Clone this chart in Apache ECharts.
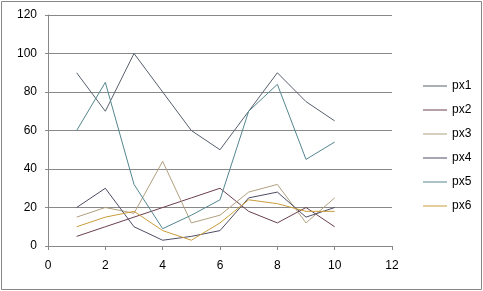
<!DOCTYPE html>
<html>
<head>
<meta charset="utf-8">
<script src="https://cdn.jsdelivr.net/npm/echarts@6/dist/echarts.min.js"></script>
<style>
html,body{margin:0;padding:0;background:#fff;}
#c{width:483px;height:291px;}
</style>
</head>
<body>
<div id="c"></div>
<script>
const xValues = [1,2,3,4,5,6,7,8,9,10];
const seriesNames = ['px1','px2','px3','px4','px5','px6'];
const px1 = [90,70,100,80,60,50,70,90,75,65];
const px2 = [5,10,15,20,25,30,18,12,20,10];
const px3 = [15,20,17,44,12,16,28,32,12,25];
const px4 = [20,30,10,3,5,8,25,28,15,20];
const px5 = [60,85,32,9,16,24,70,84,45,54];
const px6 = [10,15,18,8,3,12,24,22,18,18];
const colors = ['#565f6c','#6a3e50','#b0a07e','#4c4c66','#52868e','#c89c3a'];
const allData = [px1,px2,px3,px4,px5,px6];

const chart = echarts.init(document.getElementById('c'), null, {renderer:'canvas'});
const font = 'Liberation Sans, Arial, sans-serif';
chart.setOption({
  animation:false,
  color: colors,
  textStyle:{fontFamily:font},
  grid:{left:48, right:91, top:15, bottom:45},
  xAxis:{type:'value', min:0, max:12, interval:2,
    axisLine:{show:true, lineStyle:{color:'#888', width:1}},
    axisTick:{show:true, length:4, lineStyle:{color:'#888'}},
    axisLabel:{color:'#000', fontSize:12, margin:14, fontFamily:font},
    splitLine:{show:false}},
  yAxis:{type:'value', min:0, max:120, interval:20,
    axisLine:{show:true, lineStyle:{color:'#888', width:1}},
    axisTick:{show:true, length:3, lineStyle:{color:'#888'}},
    axisLabel:{color:'#000', fontSize:12, margin:11, fontFamily:font},
    splitLine:{show:true, lineStyle:{color:'#888', width:1}}},
  legend:{orient:'vertical', left:418, top:75, itemWidth:24, itemHeight:10, itemGap:12,
    textStyle:{color:'#000', fontSize:12, fontFamily:font},
    data: seriesNames.map(n=>({name:n, icon:'path://M0,5L24,5L24,6L0,6Z'}))},
  graphic:[{type:'rect', shape:{x:1.5,y:1.5,width:480,height:288}, style:{fill:'none', stroke:'#888', lineWidth:1}, silent:true}],
  series: seriesNames.map((n,i)=>({
    name:n, type:'line', symbol:'none',
    lineStyle:{width:1, color:colors[i]},
    data: xValues.map((x,j)=>[x, allData[i][j]])
  }))
});
</script>
</body>
</html>
